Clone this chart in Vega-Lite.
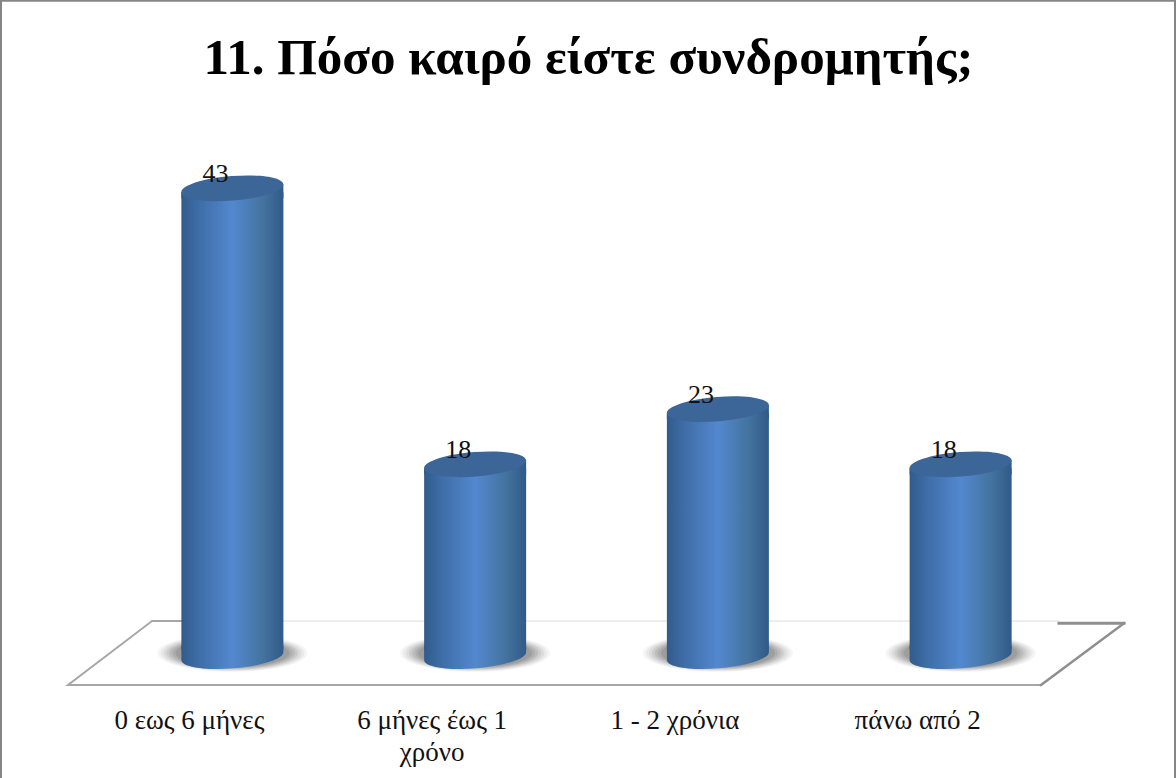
{
"$schema":"https://vega.github.io/schema/vega-lite/v6.json",
"width":971,"height":563,
"autosize":{"type":"none"},
"padding":{"left":111,"top":100,"right":94,"bottom":115},
"background":"white",
"view":{"stroke":null},
"title":{"text":"11. Πόσο καιρό είστε συνδρομητής;","font":"Liberation Serif","fontWeight":"bold","fontSize":51,"color":"#000000","anchor":"middle","dx":-8,"offset":-128,"baseline":"alphabetic"},
"config":{"axisY":{"labels":false,"ticks":false,"domain":false,"grid":false,"title":null}},
"datasets":{
"bars":[{"cat":"0 εως 6 μήνες","v":43},{"cat":"6 μήνες έως 1 χρόνο","v":18},{"cat":"1  - 2 χρόνια","v":23},{"cat":"πάνω από 2","v":18}],
"lines":[
{"seg":"frame","i":0,"fx":-110,"fy":-10.4},{"seg":"frame","i":1,"fx":-110,"fy":60},{"seg":"frame","i":2,"fx":1064,"fy":60},{"seg":"frame","i":3,"fx":1064,"fy":-10.4},
{"seg":"back","i":0,"fx":41,"fy":3.8},{"seg":"back","i":1,"fx":948,"fy":3.8},
{"seg":"backl","i":0,"fx":41,"fy":3.8},{"seg":"backl","i":1,"fx":72,"fy":3.8},
{"seg":"backr","i":0,"fx":948,"fy":3.6},{"seg":"backr","i":1,"fx":1013,"fy":3.6},
{"seg":"front","i":0,"fx":41,"fy":3.8},{"seg":"front","i":1,"fx":-43,"fy":-2},{"seg":"front","i":2,"fx":930,"fy":-2},
{"seg":"right","i":0,"fx":930,"fy":-2},{"seg":"right","i":1,"fx":1013,"fy":3.6}
]},
"resolve":{"scale":{"x":"independent"},"axis":{"x":"independent"}},
"layer":[
{"data":{"name":"lines"},
 "mark":{"type":"line","clip":false,"strokeCap":"square"},
 "encoding":{
  "x":{"field":"fx","type":"quantitative","title":null,"axis":{"labels":false,"ticks":false,"domain":false,"grid":false},"scale":{"domain":[0,971],"nice":false,"zero":false}},
  "y":{"field":"fy","type":"quantitative","title":null,"scale":{"domain":[0,51],"nice":false}},
  "order":{"field":"i"},
  "color":{"field":"seg","type":"nominal","legend":null,"scale":{"domain":["frame","back","backl","backr","front","right"],"range":["#868686","#dcdcdc","#a6a6a6","#8f8f8f","#a6a6a6","#8f8f8f"]}},
  "strokeWidth":{"field":"seg","type":"nominal","legend":null,"scale":{"type":"ordinal","domain":["frame","back","backl","backr","front","right"],"range":[2,1,2,3,2,2.5]}}
 }},
{"data":{"name":"bars"},
 "encoding":{
  "x":{"field":"cat","type":"nominal","sort":null,"title":null,
    "scale":{"type":"band","paddingInner":0,"paddingOuter":0},
    "axis":{"orient":"bottom","domain":false,"ticks":false,"grid":false,"labelAngle":0,"labelFont":"Liberation Serif","labelFontSize":27,"labelColor":"#111111","labelPadding":44,"labelOffset":-43,"labelLimit":300,"labelLineHeight":32,
      "labelExpr":"datum.label == '6 μήνες έως 1 χρόνο' ? ['6 μήνες έως 1','χρόνο'] : datum.label"}}
 },
 "layer":[
  {"mark":{"type":"point","shape":"M-1,0 A1,0.25 0 1 1 1,0 A1,0.25 0 1 1 -1,0 Z","filled":true,"fill":"#555555","opacity":0.06,"size":22500,"strokeWidth":0},"encoding":{"y":{"datum":0.9}}},
  {"mark":{"type":"point","shape":"M-1,0 A1,0.25 0 1 1 1,0 A1,0.25 0 1 1 -1,0 Z","filled":true,"fill":"#555555","opacity":0.07,"size":20736,"strokeWidth":0},"encoding":{"y":{"datum":0.9}}},
  {"mark":{"type":"point","shape":"M-1,0 A1,0.25 0 1 1 1,0 A1,0.25 0 1 1 -1,0 Z","filled":true,"fill":"#555555","opacity":0.09,"size":19044,"strokeWidth":0},"encoding":{"y":{"datum":0.9}}},
  {"mark":{"type":"point","shape":"M-1,0 A1,0.25 0 1 1 1,0 A1,0.25 0 1 1 -1,0 Z","filled":true,"fill":"#555555","opacity":0.11,"size":17424,"strokeWidth":0},"encoding":{"y":{"datum":0.9}}},
  {"mark":{"type":"point","shape":"M-1,0 A1,0.25 0 1 1 1,0 A1,0.25 0 1 1 -1,0 Z","filled":true,"fill":"#555555","opacity":0.13,"size":15876,"strokeWidth":0},"encoding":{"y":{"datum":0.9}}},
  {"mark":{"type":"point","shape":"M-1,0 A1,0.25 0 1 1 1,0 A1,0.25 0 1 1 -1,0 Z","filled":true,"fill":"#555555","opacity":0.15,"size":14400,"strokeWidth":0},"encoding":{"y":{"datum":0.9}}},
  {"mark":{"type":"point","shape":"M-1,0 A1,0.25 0 1 1 1,0 A1,0.25 0 1 1 -1,0 Z","filled":true,"fill":"#555555","opacity":0.17,"size":12996,"strokeWidth":0},"encoding":{"y":{"datum":0.9}}},
  {"mark":{"type":"bar","width":102,"yOffset":4,"fill":{"gradient":"linear","x1":0,"y1":0,"x2":1,"y2":0,"stops":[{"offset":0,"color":"#315b8c"},{"offset":0.18,"color":"#3f6ea8"},{"offset":0.5,"color":"#5388cf"},{"offset":0.8,"color":"#44739f"},{"offset":1,"color":"#305a87"}]}},
   "encoding":{"y":{"field":"v","type":"quantitative"},"y2":{"datum":1.2}}},
  {"mark":{"type":"point","shape":"M-1,0.08 A1.003,0.24 -4.6 0 0 1,-0.08 L1,-0.2 L-1,-0.2 Z","filled":true,"opacity":1,"size":10404,"strokeWidth":0,"fill":{"gradient":"linear","x1":0,"y1":0,"x2":1,"y2":0,"stops":[{"offset":0,"color":"#315b8c"},{"offset":0.18,"color":"#3f6ea8"},{"offset":0.5,"color":"#5388cf"},{"offset":0.8,"color":"#44739f"},{"offset":1,"color":"#305a87"}]}},
   "encoding":{"y":{"datum":0.63}}},
  {"mark":{"type":"point","shape":"M-1,0.08 L1,-0.08 L1,0.2 L-1,0.2 Z","filled":true,"opacity":1,"size":10404,"strokeWidth":0,"fill":{"gradient":"linear","x1":0,"y1":0,"x2":1,"y2":0,"stops":[{"offset":0,"color":"#315b8c"},{"offset":0.18,"color":"#3f6ea8"},{"offset":0.5,"color":"#5388cf"},{"offset":0.8,"color":"#44739f"},{"offset":1,"color":"#305a87"}]}},
   "encoding":{"y":{"field":"v","type":"quantitative"}}},
  {"mark":{"type":"point","shape":"M-1,0.08 A1.003,0.24 -4.6 0 1 1,-0.08 A1.003,0.24 -4.6 0 1 -1,0.08 Z","filled":true,"opacity":1,"size":10404,"strokeWidth":0,"fill":"#3c6698"},
   "encoding":{"y":{"field":"v","type":"quantitative"}}},
  {"mark":{"type":"text","font":"Liberation Serif","fontSize":26,"color":"#111111","dx":-17,"dy":-14,"baseline":"middle"},
   "encoding":{"y":{"field":"v","type":"quantitative"},"text":{"field":"v","type":"quantitative"}}}
 ]}
]
}
